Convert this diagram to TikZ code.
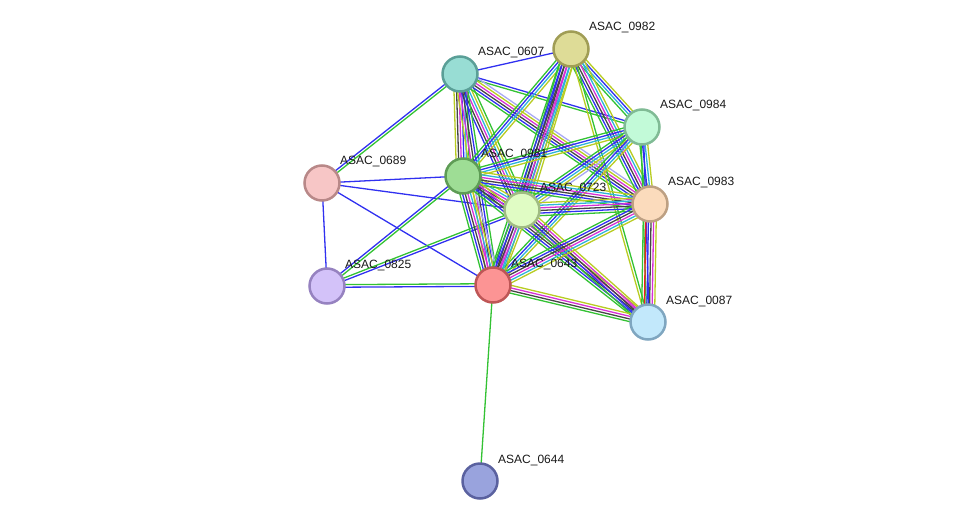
\documentclass[tikz,border=0pt]{standalone}
\usepackage{fontspec}
\setmainfont{Liberation Sans}
\usepackage{tikz}
\usetikzlibrary{calc, backgrounds}
\definecolor{sgreen}{HTML}{33C233}
\definecolor{sblue}{HTML}{3030F0}
\definecolor{scyan}{HTML}{2EB4D8}
\definecolor{smagenta}{HTML}{D630D6}
\definecolor{syellow}{HTML}{B8CC22}
\definecolor{sblack}{HTML}{454545}
\definecolor{slav}{HTML}{A8A8F4}
\definecolor{sred}{HTML}{F02020}

% parallel coloured lines between two proteins
\newcommand{\stringedge}[3]{%
  \foreach \col [count=\n] in {#3} {\xdef\nlines{\n}}%
  \foreach \col [count=\i] in {#3} {%
    \pgfmathsetmacro{\off}{(\i-(\nlines+1)/2)*2.6}%
    \draw[edgeline, \col] ($(#1)!\off pt!90:(#2)$) -- ($(#2)!\off pt!-90:(#1)$);
  }%
}

\begin{document}
\begin{tikzpicture}[x=1pt, y=-1pt,
  prot/.style={circle, minimum size=35pt, inner sep=0pt, line width=2.5pt},
  plabel/.style={font=\fontsize{12}{14}\selectfont, anchor=west, inner sep=0pt, text=black!90},
  edgeline/.style={line width=1.3pt}]
\useasboundingbox (0,0) rectangle (976,527);

\node[prot, fill={rgb,255:red,222;green,220;blue,151}, draw={rgb,255:red,160;green,157;blue,85}] (n0982) at (571,49) {};
\node[prot, fill={rgb,255:red,152;green,221;blue,212}, draw={rgb,255:red,90;green,159;blue,151}] (n0607) at (460,74) {};
\node[prot, fill={rgb,255:red,194;green,250;blue,216}, draw={rgb,255:red,128;green,187;blue,149}] (n0984) at (642,127) {};
\node[prot, fill={rgb,255:red,247;green,198;blue,198}, draw={rgb,255:red,184;green,136;blue,136}] (n0689) at (322,183) {};
\node[prot, fill={rgb,255:red,158;green,221;blue,149}, draw={rgb,255:red,94;green,156;blue,85}] (n0981) at (463,176) {};
\node[prot, fill={rgb,255:red,224;green,252;blue,196}, draw={rgb,255:red,160;green,187;blue,131}] (n0723) at (522,210) {};
\node[prot, fill={rgb,255:red,251;green,219;blue,188}, draw={rgb,255:red,189;green,160;blue,131}] (n0983) at (650,204) {};
\node[prot, fill={rgb,255:red,211;green,194;blue,249}, draw={rgb,255:red,150;green,130;blue,192}] (n0825) at (327,286) {};
\node[prot, fill={rgb,255:red,252;green,148;blue,148}, draw={rgb,255:red,190;green,86;blue,86}] (n0643) at (493,285) {};
\node[prot, fill={rgb,255:red,194;green,232;blue,251}, draw={rgb,255:red,127;green,166;blue,192}] (n0087) at (648,322) {};
\node[prot, fill={rgb,255:red,153;green,163;blue,221}, draw={rgb,255:red,90;green,97;blue,159}] (n0644) at (480,481) {};

\foreach \p in {0982,0607,0984,0689,0981,0723,0983,0825,0643,0087,0644}
  \node[plabel] (l\p) at ([xshift=18pt, yshift=21pt]n\p.center) {ASAC\_\p};

\begin{scope}[on background layer]
\stringedge{n0607}{n0982}{sblue}
\stringedge{n0689}{n0607}{sgreen,sblue}
\stringedge{n0689}{n0981}{sblue}
\stringedge{n0689}{n0723}{sblue}
\stringedge{n0689}{n0643}{sblue}
\stringedge{n0689}{n0825}{sblue}
\stringedge{n0825}{n0981}{sgreen,sblue}
\stringedge{n0825}{n0723}{sblue,sgreen}
\stringedge{n0825}{n0643}{sblue,sgreen}
\stringedge{n0643}{n0644}{sgreen}
\stringedge{n0607}{n0981}{syellow,sblack,smagenta,sblue,scyan,sgreen}
\stringedge{n0607}{n0723}{sblue,sblack,smagenta,scyan,syellow,sgreen}
\stringedge{n0607}{n0643}{syellow,smagenta,sblack,sblue,sgreen}
\stringedge{n0607}{n0984}{sgreen,sblue}
\stringedge{n0607}{n0983}{sgreen,sblue,sblack,smagenta,syellow,slav}
\stringedge{n0982}{n0981}{sgreen,sblue,scyan,syellow}
\stringedge{n0982}{n0723}{sgreen,sblue,sblack,smagenta,scyan,syellow}
\stringedge{n0982}{n0643}{sgreen,sblue,sblack,smagenta,scyan,syellow}
\stringedge{n0982}{n0984}{sgreen,scyan,sblue,syellow}
\stringedge{n0982}{n0983}{sgreen,sblue,sblack,smagenta,scyan,syellow}
\stringedge{n0982}{n0087}{syellow,sgreen}
\stringedge{n0984}{n0981}{sgreen,sblue,scyan,syellow}
\stringedge{n0984}{n0723}{sgreen,sblue,scyan,syellow,slav}
\stringedge{n0984}{n0643}{sgreen,sblue,scyan,syellow}
\stringedge{n0984}{n0983}{sgreen,sblue,scyan,syellow}
\stringedge{n0984}{n0087}{sgreen,sblue}
\stringedge{n0981}{n0723}{sgreen,sblue,sblack,smagenta,scyan,syellow}
\stringedge{n0981}{n0643}{sgreen,sblue,sblack,smagenta,scyan,syellow,slav}
\stringedge{n0981}{n0983}{sgreen,sblue,sblack,smagenta,scyan,syellow}
\stringedge{n0981}{n0087}{sgreen,sblue,sblack,smagenta,syellow}
\stringedge{n0723}{n0643}{sgreen,sblue,sblack,smagenta,scyan,syellow}
\stringedge{n0723}{n0983}{sgreen,sblue,sblack,smagenta,scyan,syellow}
\stringedge{n0723}{n0087}{sgreen,sblue,sblack,smagenta,syellow}
\stringedge{n0983}{n0643}{sgreen,sblue,sblack,smagenta,scyan,syellow}
\stringedge{n0983}{n0087}{sgreen,sred,sblue,sblack,smagenta,syellow}
\stringedge{n0643}{n0087}{sgreen,sblack,smagenta,syellow}
\end{scope}
\end{tikzpicture}
\end{document}
